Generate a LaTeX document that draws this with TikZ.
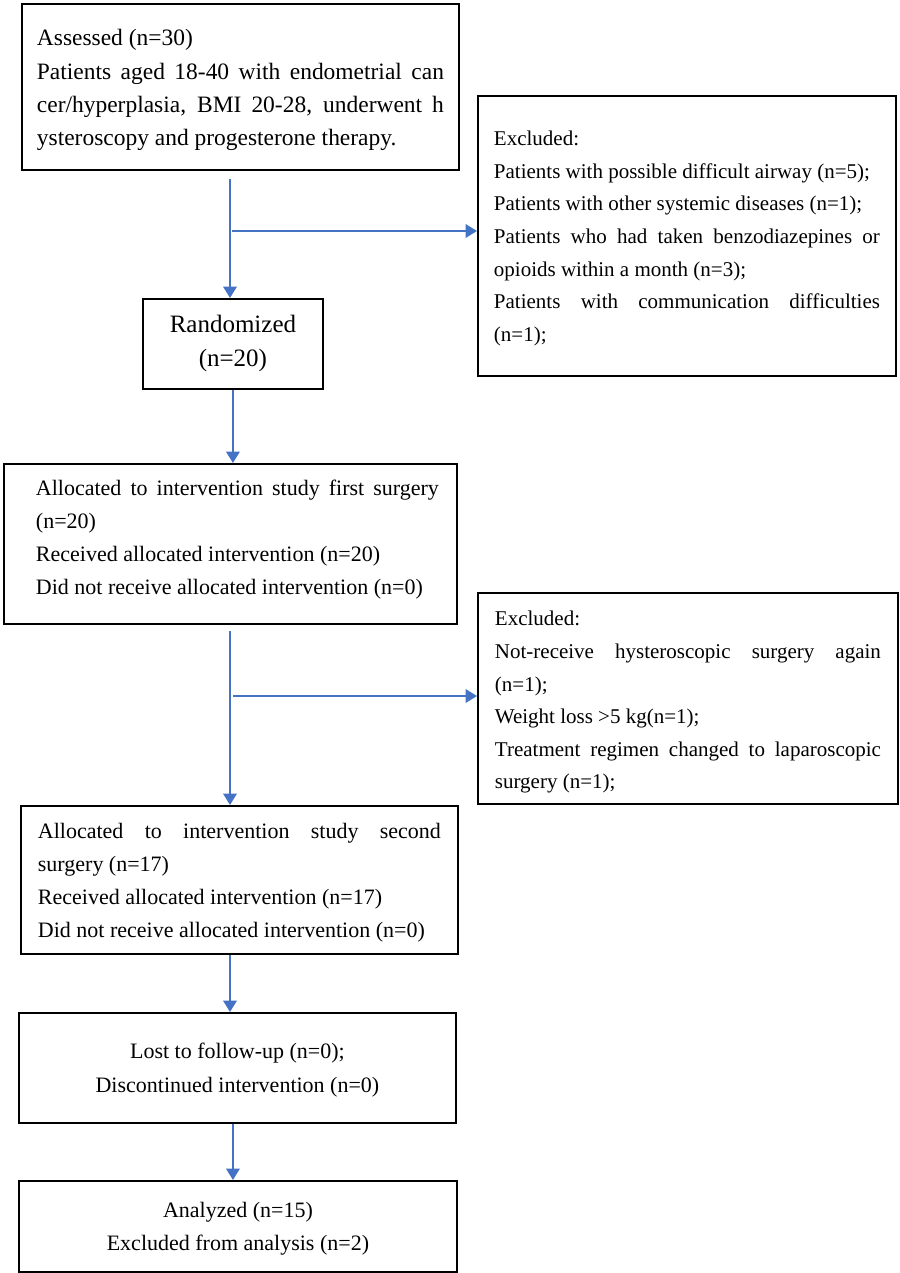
\documentclass[tikz,border=0pt]{standalone}
\usepackage{fontspec}
\setmainfont{Liberation Serif}
\usetikzlibrary{arrows.meta, positioning}
\newlength\pxu
\setlength\pxu{0.75pt}
\definecolor{flowblue}{RGB}{68,114,196}
\tikzstyle{box} = [draw, rectangle, line width=1.4pt,
    anchor=north west, inner ysep=0pt, align=flush left]
\tikzstyle{link} = [draw=flowblue, line width=1.6pt,
    -{Triangle[width=10pt,length=8.5pt]}]
\newcommand{\fsbig}{\fontsize{17.6pt}{25pt}\selectfont}
\newcommand{\fsrand}{\fontsize{18.75pt}{25.5pt}\selectfont}
\newcommand{\fsexcl}{\fontsize{15.75pt}{24.4pt}\selectfont}
\newcommand{\fsmain}{\fontsize{16.5pt}{24.75pt}\selectfont}
\newcommand{\fscent}{\fontsize{16.5pt}{25.5pt}\selectfont}
\newcommand{\jline}[2][\linewidth]{\makebox[#1][s]{#2}}
\newcommand{\ind}{\hspace*{14\pxu}}

\begin{document}
\begin{tikzpicture}[x=0.75pt, y=-0.75pt]
        \useasboundingbox (0,0) rectangle (899,1273);

        \node[box, font=\fsbig, text width=407\pxu, inner xsep=15\pxu,
            text height=42\pxu, text depth=124\pxu] (assessed) at (21,3)
            {Assessed (n=30)\\
             \jline{Patients aged 18-40 with endometrial can}\\
             \jline{cer/hyperplasia, BMI 20-28, underwent h}\\
             ysteroscopy and progesterone therapy.};
        \node[box, font=\fsexcl, text width=386\pxu, inner xsep=16\pxu,
            text height=50\pxu, text depth=230\pxu] (excl1) at (477,95)
            {Excluded:\\
             Patients with possible difficult airway (n=5);\\
             Patients with other systemic diseases (n=1);\\
             \jline{Patients who had taken benzodiazepines or}\\
             opioids within a month (n=3);\\
             \jline{Patients with communication difficulties}\\
             (n=1);};
        \node[box, font=\fsrand, text width=180\pxu, inner xsep=0pt, align=flush center,
            text height=34\pxu, text depth=56\pxu] (rand) at (142,298)
            {Randomized\\(n=20)};
        \node[box, font=\fsmain, text width=417\pxu, inner xsep=18\pxu,
            text height=32\pxu, text depth=128\pxu] (alloc1) at (3,463)
            {\ind\jline[403\pxu]{Allocated to intervention study first surgery}\\
             \ind(n=20)\\
             \ind Received allocated intervention (n=20)\\
             \ind Did not receive allocated intervention (n=0)};
        \node[box, font=\fsexcl, text width=386\pxu, inner xsep=17\pxu,
            text height=33\pxu, text depth=178\pxu] (excl2) at (477,592)
            {Excluded:\\
             \jline{Not-receive hysteroscopic surgery again}\\
             (n=1);\\
             Weight loss >5 kg(n=1);\\
             \jline{Treatment regimen changed to laparoscopic}\\
             surgery (n=1);};
        \node[box, font=\fsmain, text width=403\pxu, inner xsep=17\pxu,
            text height=33\pxu, text depth=115\pxu] (alloc2) at (20,805)
            {\jline{Allocated to intervention study second}\\
             surgery (n=17)\\
             Received allocated intervention (n=17)\\
             Did not receive allocated intervention (n=0)};
        \node[box, font=\fscent, text width=437\pxu, inner xsep=0pt, align=flush center,
            text height=46\pxu, text depth=64\pxu] (lost) at (18,1012)
            {Lost to follow-up (n=0);\\Discontinued intervention (n=0)};
        \node[box, font=\fsmain, text width=438\pxu, inner xsep=0pt, align=flush center,
            text height=37\pxu, text depth=54\pxu] (ana) at (18,1180)
            {Analyzed (n=15)\\Excluded from analysis (n=2)};

        % screening and first exclusion
        \coordinate (top1) at (230,179);
        \coordinate (split1) at (232,231);
        \draw[link] (top1) -- (top1 |- rand.north);
        \draw[link] (split1) -- (split1 -| excl1.west);
        \draw[link] (rand.south) -- (rand.south |- alloc1.north);

        % between the two surgeries
        \coordinate (top2) at (230,631);
        \coordinate (split2) at (233,696);
        \draw[link] (top2) -- (top2 |- alloc2.north);
        \draw[link] (split2) -- (split2 -| excl2.west);

        % follow-up and analysis
        \draw[link] (alloc2.south -| top2) -- (top2 |- lost.north);
        \draw[link] (lost.south -| rand.south) -- (rand.south |- ana.north);
    \end{tikzpicture}
\end{document}
